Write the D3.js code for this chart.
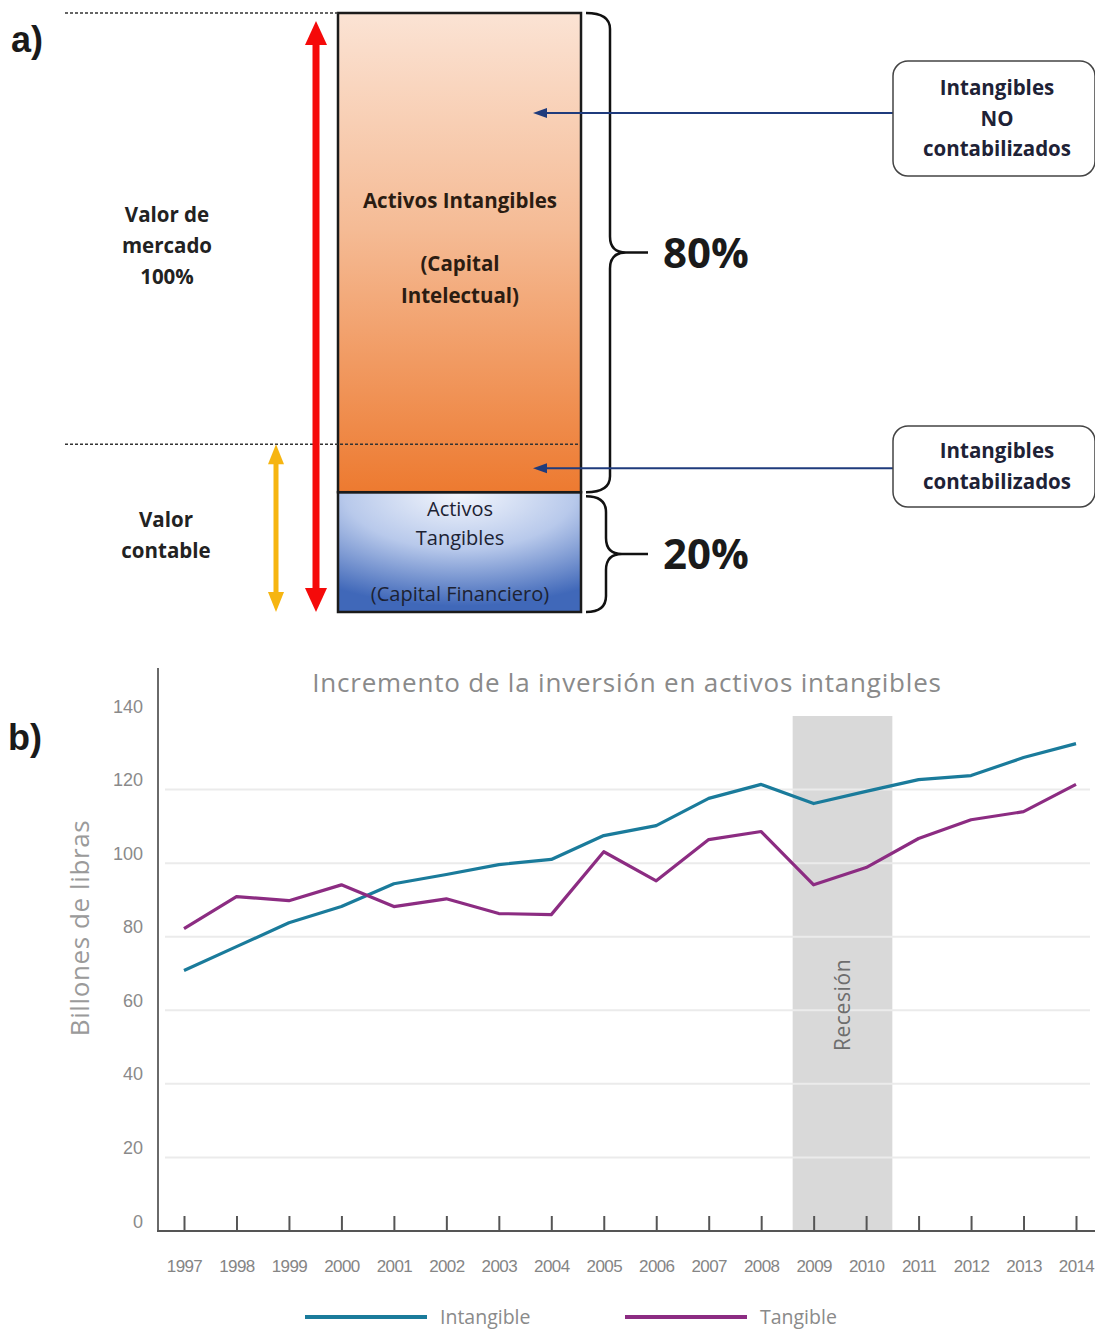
<!DOCTYPE html>
<html>
<head>
<meta charset="utf-8">
<script src="https://cdn.jsdelivr.net/npm/d3@7"></script>
<style>
  body { margin: 0; background: #fff; }
  svg { display: block; }
</style>
</head>
<body>
<svg id="chart" width="1095" height="1331"></svg>
<script>
// ---------- Part a: composition of a company's market value ----------
const segmentNames = ["tangible", "intangible"];
const segmentShares = [20, 80];                 // % of market value
const segmentLabels = [
  ["Activos", "Tangibles", "(Capital Financiero)"],
  ["Activos Intangibles", "", "(Capital", "Intelectual)"]
];
const shareLabels = ["20%", "80%"];
const bookValueShare = 28;                      // level where book value ends
const calloutLabels = [
  ["Intangibles", "NO", "contabilizados"],
  ["Intangibles", "contabilizados"]
];

// ---------- Part b: investment in intangible vs tangible assets ----------
const years = [1997, 1998, 1999, 2000, 2001, 2002, 2003, 2004, 2005,
               2006, 2007, 2008, 2009, 2010, 2011, 2012, 2013, 2014];
const intangible = [70.8, 77.3, 83.8, 88.2, 94.4, 96.9, 99.6, 101.0, 107.5,
                    110.2, 117.6, 121.4, 116.2, 119.5, 122.7, 123.8, 128.7, 132.5];
const tangible   = [82.2, 90.9, 89.8, 94.1, 88.2, 90.3, 86.3, 86.0, 103.1,
                    95.2, 106.4, 108.6, 94.1, 98.8, 106.7, 111.8, 114.0, 121.4];
const yTicks = [0, 20, 40, 60, 80, 100, 120, 140];
const gridTicks = [20, 40, 60, 80, 100, 120];
const recession = [2008.6, 2010.5];
const seriesNames = ["Intangible", "Tangible"];
const seriesColors = ["#1a7b9b", "#8c2c82"];

const svg = d3.select("#chart");
const defs = svg.append("defs");

// ===================== Part a =====================
const boldFont = "'Open Sans', Lato, sans-serif";
const shareY = d3.scaleLinear().domain([0, 100]).range([612, 13]);
const boxX0 = 338, boxX1 = 581;

// gradients
const og = defs.append("linearGradient").attr("id", "orangeGrad")
  .attr("x1", 0).attr("y1", 0).attr("x2", 0).attr("y2", 1);
og.append("stop").attr("offset", "0%").attr("stop-color", "#fbe3d4");
og.append("stop").attr("offset", "45%").attr("stop-color", "#f5bb95");
og.append("stop").attr("offset", "100%").attr("stop-color", "#ed7a30");

const bg = defs.append("radialGradient").attr("id", "blueGrad")
  .attr("cx", "50%").attr("cy", "0%").attr("r", "95%")
  .attr("fx", "50%").attr("fy", "0%");
bg.append("stop").attr("offset", "0%").attr("stop-color", "#f4f7fd");
bg.append("stop").attr("offset", "50%").attr("stop-color", "#b8c9eb");
bg.append("stop").attr("offset", "100%").attr("stop-color", "#4068b9");

const partA = svg.append("g");

// stacked segments
let acc = 0;
const segments = segmentShares.map((v, i) => {
  const s = { name: segmentNames[i], from: acc, to: acc + v, label: segmentLabels[i], share: shareLabels[i] };
  acc += v;
  return s;
});

partA.selectAll("rect.seg").data(segments).join("rect")
  .attr("class", "seg")
  .attr("x", boxX0)
  .attr("width", boxX1 - boxX0)
  .attr("y", d => shareY(d.to))
  .attr("height", d => shareY(d.from) - shareY(d.to))
  .attr("fill", d => d.name === "tangible" ? "url(#blueGrad)" : "url(#orangeGrad)")
  .attr("stroke", "#1b1b1b")
  .attr("stroke-width", 2.5);

// dashed reference lines
partA.append("line")
  .attr("x1", 65).attr("x2", boxX0).attr("y1", shareY(100)).attr("y2", shareY(100))
  .attr("stroke", "#333").attr("stroke-width", 1.5).attr("stroke-dasharray", "3,2");
partA.append("line")
  .attr("x1", 65).attr("x2", boxX1 - 3).attr("y1", shareY(bookValueShare)).attr("y2", shareY(bookValueShare))
  .attr("stroke", "#333").attr("stroke-width", 1.5).attr("stroke-dasharray", "3,2");

// double-headed arrows
function doubleArrow(g, x, yTop, yBot, color, lw, hw, hh) {
  g.append("line").attr("x1", x).attr("x2", x)
    .attr("y1", yTop + hh - 2).attr("y2", yBot - hh + 2)
    .attr("stroke", color).attr("stroke-width", lw);
  g.append("path").attr("d", `M${x},${yTop} L${x + hw},${yTop + hh} L${x - hw},${yTop + hh} Z`).attr("fill", color);
  g.append("path").attr("d", `M${x},${yBot} L${x + hw},${yBot - hh} L${x - hw},${yBot - hh} Z`).attr("fill", color);
}
doubleArrow(partA, 316, shareY(100) + 8, shareY(0), "#f50a0a", 7, 11, 24);
doubleArrow(partA, 276, shareY(bookValueShare), shareY(0), "#f6b511", 5, 8, 20);

// multi-line centred text helper
function multiline(g, lines, x, ys, opts) {
  const t = g.append("text")
    .attr("text-anchor", "middle")
    .attr("font-family", opts.family || boldFont)
    .attr("font-weight", opts.weight || 700)
    .attr("font-size", opts.size || 20.5)
    .attr("fill", opts.color || "#222");
  lines.forEach((ln, i) => {
    if (ln === "") return;
    t.append("tspan").attr("x", x).attr("y", ys[i]).text(ln);
  });
  return t;
}
const rows = (y0, lh, n) => d3.range(n).map(i => y0 + i * lh);

multiline(partA, ["Valor de", "mercado", "100%"], 167, rows(222, 31, 3), {});
multiline(partA, ["Valor", "contable"], 166, rows(527, 31, 2), {});

// texts inside the boxes
const intSeg = segments[1], tanSeg = segments[0];
multiline(partA, intSeg.label, 460, rows(208, 31.5, 4), { color: "#2b1c12" });
const tTop = shareY(tanSeg.to), tBot = shareY(tanSeg.from);
multiline(partA, tanSeg.label, 460, [tTop + 24, tTop + 53, tBot - 11],
  { weight: 400, size: 20, color: "#1c2233" });

// braces
function bracePath(x, y0, y1, d, r, tip) {
  const m = (y0 + y1) / 2, xv = x + d;
  return `M${x},${y0} Q${xv},${y0} ${xv},${y0 + r} L${xv},${m - r} ` +
         `Q${xv},${m} ${xv + r},${m} L${xv + tip},${m} ` +
         `M${xv + r},${m} Q${xv},${m} ${xv},${m + r} L${xv},${y1 - r} Q${xv},${y1} ${x},${y1}`;
}
segments.forEach((s, i) => {
  const y0 = shareY(s.to) + (i === 0 ? 4 : 0);
  const y1 = shareY(s.from);
  const depth = i === 0 ? 20 : 24;
  partA.append("path")
    .attr("d", bracePath(586, y0, y1, depth, 16, i === 0 ? 42 : 38))
    .attr("fill", "none").attr("stroke", "#111").attr("stroke-width", 2.5);
  partA.append("text")
    .attr("x", 663).attr("y", (y0 + y1) / 2 + 15)
    .attr("font-family", boldFont).attr("font-weight", 700)
    .attr("font-size", 42).attr("fill", "#1a1a1a")
    .text(s.share);
});

// callouts with arrows pointing into the intangible segment
const callouts = [
  { lines: calloutLabels[0], y: 61, h: 115, arrowY: 113 },
  { lines: calloutLabels[1], y: 426, h: 81, arrowY: (shareY(bookValueShare) + shareY(20)) / 2 }
];
callouts.forEach(c => {
  partA.append("line")
    .attr("x1", 893).attr("x2", 545).attr("y1", c.arrowY).attr("y2", c.arrowY)
    .attr("stroke", "#1f3b7c").attr("stroke-width", 2.2);
  partA.append("path")
    .attr("d", `M533,${c.arrowY} L547,${c.arrowY - 5} L547,${c.arrowY + 5} Z`)
    .attr("fill", "#1f3b7c");
  partA.append("rect")
    .attr("x", 893).attr("y", c.y).attr("width", 202).attr("height", c.h)
    .attr("rx", 15).attr("ry", 15)
    .attr("fill", "#fff").attr("stroke", "#444").attr("stroke-width", 1.5);
  const lh = 30.5;
  const first = c.y + c.h / 2 - (c.lines.length - 1) * lh / 2 + 7;
  multiline(partA, c.lines, 997, rows(first, lh, c.lines.length), { color: "#1e2236" });
});

// panel letters
svg.append("text").attr("x", 11).attr("y", 52)
  .attr("font-family", "'Liberation Sans', Arial, sans-serif").attr("font-weight", 700)
  .attr("font-size", 36).attr("fill", "#1a1a1a").text("a)");
svg.append("text").attr("x", 8).attr("y", 750)
  .attr("font-family", "'Liberation Sans', Arial, sans-serif").attr("font-weight", 700)
  .attr("font-size", 36).attr("fill", "#1a1a1a").text("b)");

// ===================== Part b =====================
const x = d3.scaleLinear().domain([1997, 2014]).range([184, 1076]);
const y = d3.scaleLinear().domain([0, 140]).range([1231, 716]);
const partB = svg.append("g");
const tickFont = "'Liberation Sans', Arial, sans-serif";
const lightFont = "'Open Sans', sans-serif";

// recession band
partB.append("rect")
  .attr("x", x(recession[0])).attr("width", x(recession[1]) - x(recession[0]))
  .attr("y", y(140)).attr("height", y(0) - y(140))
  .attr("fill", "#d9d9d9");

// gridlines
partB.selectAll("line.grid").data(gridTicks).join("line")
  .attr("class", "grid")
  .attr("x1", 165).attr("x2", 1090)
  .attr("y1", d => y(d)).attr("y2", d => y(d))
  .attr("stroke", "#ebebeb").attr("stroke-width", 2);

// recession label
partB.append("text")
  .attr("transform", `translate(${(x(recession[0]) + x(recession[1])) / 2 + 7},1005) rotate(-90)`)
  .attr("text-anchor", "middle")
  .attr("font-family", lightFont).attr("font-size", 21).attr("letter-spacing", 0.6)
  .attr("fill", "#6d6d6d").text("Recesión");

// axes
const yAxis = d3.axisLeft(y).tickValues(yTicks).tickSize(0).tickPadding(15);
const gy = partB.append("g").attr("transform", "translate(158,0)").call(yAxis);
gy.select(".domain").remove();
gy.selectAll("text")
  .attr("dy", "-0.22em")
  .attr("font-family", tickFont).attr("font-size", 18).attr("fill", "#8a8a8a");

partB.append("line").attr("x1", 158).attr("x2", 158).attr("y1", 668).attr("y2", 1232)
  .attr("stroke", "#6a6a6a").attr("stroke-width", 2);

const xAxis = d3.axisBottom(x).tickValues(years).tickFormat(d3.format("d"))
  .tickSize(-15).tickPadding(29);
const gx = partB.append("g").attr("transform", "translate(0,1231)").call(xAxis);
gx.select(".domain").remove();
gx.selectAll(".tick line").attr("stroke", "#555").attr("stroke-width", 2);
gx.selectAll("text")
  .attr("font-family", tickFont).attr("font-size", 17).attr("letter-spacing", -0.6)
  .attr("fill", "#858585");

partB.append("line").attr("x1", 157).attr("x2", 1095).attr("y1", 1231).attr("y2", 1231)
  .attr("stroke", "#555").attr("stroke-width", 2.2);

// series lines
const series = [intangible, tangible];
const line = d3.line().x((d, i) => x(years[i])).y(d => y(d));
partB.selectAll("path.series").data(series).join("path")
  .attr("class", "series")
  .attr("d", d => line(d))
  .attr("fill", "none")
  .attr("stroke", (d, i) => seriesColors[i])
  .attr("stroke-width", 3.2)
  .attr("stroke-linejoin", "round");

// title and axis title
partB.append("text").attr("x", 627).attr("y", 692)
  .attr("text-anchor", "middle")
  .attr("font-family", lightFont).attr("font-size", 26).attr("letter-spacing", 0.8)
  .attr("fill", "#8a8a8a")
  .text("Incremento de la inversión en activos intangibles");

partB.append("text")
  .attr("transform", "translate(89,928) rotate(-90)")
  .attr("text-anchor", "middle")
  .attr("font-family", lightFont).attr("font-size", 26).attr("letter-spacing", 0.6)
  .attr("fill", "#9a9a9a")
  .text("Billones de libras");

// legend
const legendX = [305, 625];
seriesNames.forEach((name, i) => {
  partB.append("line")
    .attr("x1", legendX[i]).attr("x2", legendX[i] + 122)
    .attr("y1", 1317).attr("y2", 1317)
    .attr("stroke", seriesColors[i]).attr("stroke-width", 4);
  partB.append("text")
    .attr("x", legendX[i] + 135).attr("y", 1324)
    .attr("font-family", lightFont).attr("font-size", 19.5)
    .attr("fill", "#8a8a8a").text(name);
});
</script>
</body>
</html>
